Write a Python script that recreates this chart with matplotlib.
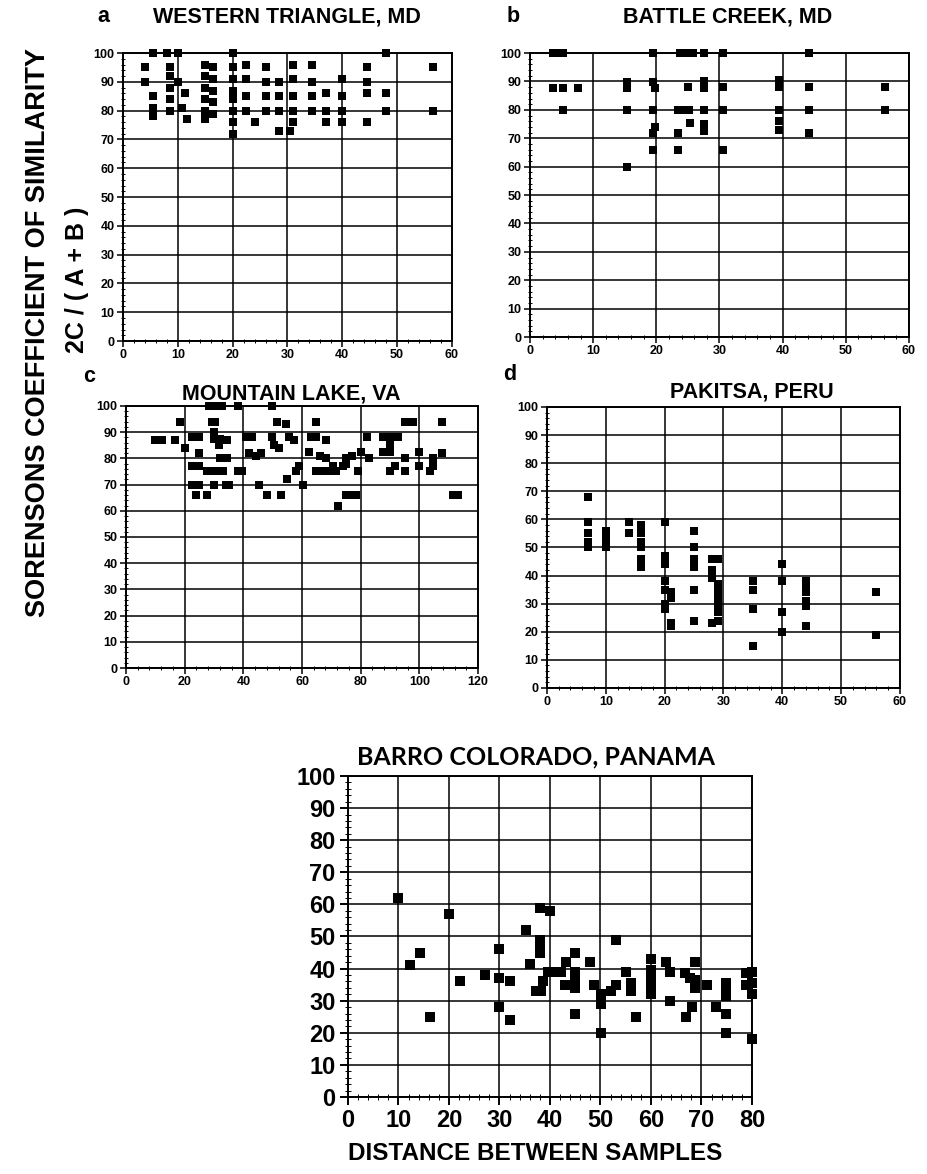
import matplotlib.pyplot as plt
import numpy as np
from matplotlib.ticker import MultipleLocator

plt.rcParams['font.family'] = ['Liberation Sans', 'DejaVu Sans']
plt.rcParams['font.weight'] = 'bold'

# a: Western Triangle, MD
a_x = [4, 4, 5.5, 5.5, 5.5, 5.5, 8, 10,
       8.6, 8.6, 8.6, 8.6, 8.6, 10, 11.3, 10.8, 11.7,
       15, 15, 15, 15, 15, 15, 16.5, 16.5, 16.5, 16.5, 16.5,
       20, 20, 20, 20, 20, 20, 20, 20,
       22.5, 22.5, 22.5, 22.5, 24,
       26, 26, 26, 26,
       28.5, 28.5, 28.5, 28.5,
       30.5, 31, 31, 31, 31, 31,
       34.5, 34.5, 34.5, 34.5,
       37, 37, 37,
       40, 40, 40, 40,
       44.5, 44.5, 44.5, 44.5,
       48, 48, 48,
       56.5, 56.5]
a_y = [95, 90, 100, 85, 81, 78, 100, 100,
       95, 92, 88, 84, 80, 90, 86, 81, 77,
       96, 92, 88, 84, 80, 77, 95, 91, 87, 83, 79,
       100, 95, 91, 87, 84, 80, 76, 72,
       96, 91, 85, 80, 76,
       95, 90, 85, 80,
       90, 85, 80, 73,
       73, 96, 91, 85, 80, 76,
       96, 90, 85, 80,
       86, 80, 76,
       91, 85, 80, 76,
       95, 90, 86, 76,
       100, 86, 80,
       95, 80]

# b: Battle Creek, MD
b_x = [3.6, 4.4, 5.2, 3.6, 5.2, 7.6, 5.2,
       15.3, 15.3, 15.3, 15.3,
       19.5, 19.5, 19.8, 19.5, 19.5, 19.8, 19.5,
       23.7, 24.8, 25.8, 25, 23.5, 24.4, 25.2, 25.3, 23.5, 23.5,
       27.6, 27.6, 27.6, 27.6, 27.6, 27.6,
       30.5, 30.5, 30.5, 30.5,
       39.5, 39.5, 39.5, 39.5, 39.5,
       44.2, 44.2, 44.2, 44.2,
       56.2, 56.2]
b_y = [100, 100, 100, 87.7, 87.7, 87.7, 80,
       89.8, 87.7, 80, 60,
       100, 89.8, 87.7, 80, 72, 74, 66,
       100, 100, 100, 88, 80, 80, 80, 75.4, 72, 66,
       100, 90, 87.7, 80, 75, 72.5,
       100, 88, 80, 66,
       90.5, 88, 80, 76, 73,
       100, 88, 80, 72,
       88, 80]

# c: Mountain Lake, VA
c_x = [10, 12.3, 16.8, 18.5, 20, 22.5, 24.8, 22.5, 24.8, 22.5, 24.8, 23.9, 24.8,
       27.7, 30.5, 27.7, 28.2, 30.5, 32.8, 29.4, 30.5, 30, 30, 32.2, 34.5, 31.7,
       32.2, 34.5, 30, 34, 35, 32, 33.2,
       38.3, 38.3, 39.7, 40.8, 43.1, 42, 44.2, 46, 45.4, 48.2, 49.9, 49.9,
       50.5, 52.2, 51.6, 54.5, 52.8, 55.6, 57.4, 55, 57.9, 59, 60.2,
       62.5, 63, 64.8, 68.2, 64.8, 66, 68.2, 64.8, 67, 69.3, 71.6, 70.5, 74, 72.2,
       75, 75, 76.9, 75.1, 77.3, 78.5, 79, 80.2, 82, 83,
       87.6, 90.5, 92.7, 87.6, 89.9, 89.9, 89.9, 91.6, 95, 95, 95, 97.9,
       100, 100, 103.6, 104.7, 104.7, 107.6, 107.6, 111.6, 113.3]
c_y = [87, 87, 87, 94, 84, 88, 88, 77, 77, 70, 70, 66, 82,
       75, 75, 66, 100, 100, 100, 94, 94, 90, 87.5, 87.5, 87, 85,
       80, 80, 70, 70, 70, 75, 75,
       100, 75, 75, 88, 88, 82, 81, 82, 70, 66, 100, 88,
       85, 84, 94, 93, 66, 88, 87, 72, 75, 77, 70,
       82.5, 88, 88, 87, 94, 81, 80, 75, 75, 75, 75, 77, 77, 62,
       80, 78, 81, 66, 66, 66, 75, 82.5, 88, 80,
       88, 88, 88, 82.5, 82.5, 85, 75, 77, 80, 75, 94, 94,
       82.5, 77, 75, 77, 80, 82, 94, 66, 66]

# d: Pakitsa, Peru
d_x = [7, 7, 7, 7, 7,
       10, 10, 10, 10,
       14, 14,
       16, 16, 16, 16, 16, 16,
       20, 20, 20, 20, 20, 20, 20, 21, 21, 21, 21,
       25, 25, 25, 25, 25, 25,
       28, 28, 28, 28,
       29, 29, 29, 29, 29, 29, 29,
       35, 35, 35, 35,
       40, 40, 40, 40,
       44, 44, 44, 44, 44, 44,
       56, 56]
d_y = [68, 59, 55, 52, 50,
       56, 54, 52, 50,
       59, 55,
       58, 55, 52, 50, 46, 43,
       59, 47, 44, 38, 35, 30, 28, 34, 32, 23, 22,
       56, 50, 46, 43, 35, 24,
       46, 42, 39, 23,
       46, 37, 35, 32, 30, 27, 24,
       38, 35, 28, 15,
       44, 38, 27, 20,
       38, 36, 34, 31, 29, 22,
       34, 19]

# e: Barro Colorado, Panama
e_x = [10, 12.2, 14.2, 16.2, 20.1, 22.1, 27.1, 30, 30, 30, 32, 32.1,
       35.2, 36, 37.2, 38.3, 38, 40, 38.1, 38.1, 38.1, 38.6, 39.6, 40.6,
       42.2, 43.1, 42.9, 45, 45, 45, 45, 45, 48, 48.8, 50.2, 50.2, 50.2,
       52, 53.1, 53.1, 55, 56, 56, 57.1, 60, 60, 60, 60, 60,
       63, 63.8, 63.8, 66.7, 67.7, 66.9, 68.2, 68.8, 68.8, 68.8, 71, 72.9,
       74.9, 74.9, 74.9, 74.9, 74.9, 78.9, 78.9, 80, 80, 80, 80]
e_y = [62, 41, 45, 25, 57, 36, 38, 46, 37, 28, 36, 24,
       52, 41.5, 33, 33, 59, 58, 49, 47, 45, 36, 39, 39,
       39, 42, 35, 45, 39, 36.5, 34, 26, 42, 35, 32, 29, 20,
       33, 35, 49, 39, 35.5, 33, 25, 43, 39.5, 37, 34.5, 32,
       42, 39, 30, 38.5, 37, 25, 28, 42, 36.5, 34, 35, 28,
       35.5, 33.5, 31.5, 26, 20, 38.5, 35, 39, 35.5, 32, 18]

fig = plt.figure(figsize=(9.28, 11.74), dpi=100)


def setup(ax, xmax, xstep, fs, msize, xs, ys):
    ax.scatter(xs, ys, marker='s', s=msize, c='black', linewidths=0, zorder=3,
               clip_on=False)
    ax.set_xlim(0, xmax)
    ax.set_ylim(0, 100)
    ax.set_xticks(np.arange(0, xmax + 1, xstep))
    ax.set_yticks(np.arange(0, 101, 10))
    ax.xaxis.set_minor_locator(MultipleLocator(xstep / 5))
    ax.yaxis.set_minor_locator(MultipleLocator(2))
    ax.grid(True, which='major', color='black', lw=1.1)
    ax.set_axisbelow(True)
    for sp in ax.spines.values():
        sp.set_linewidth(1.4)
    ax.tick_params(which='major', direction='out', length=4, width=1.1,
                   labelsize=fs, pad=2)
    ax.tick_params(which='minor', direction='inout', length=3, width=0.7)
    for lb in ax.get_xticklabels() + ax.get_yticklabels():
        lb.set_fontweight('bold')


ms = 36
ax_a = fig.add_axes([0.1325, 0.7095, 0.3545, 0.2453])
setup(ax_a, 60, 10, 9, ms, a_x, a_y)
ax_b = fig.add_axes([0.5711, 0.7129, 0.4084, 0.2419])
setup(ax_b, 60, 10, 9, ms, b_x, b_y)
ax_c = fig.add_axes([0.1358, 0.431, 0.3793, 0.2232])
setup(ax_c, 120, 20, 9, ms, c_x, c_y)
ax_d = fig.add_axes([0.5894, 0.414, 0.3804, 0.2394])
setup(ax_d, 60, 10, 9, ms, d_x, d_y)
ax_e = fig.add_axes([0.375, 0.0656, 0.4353, 0.2734])
setup(ax_e, 80, 10, 17, 60, e_x, e_y)
ax_e.tick_params(which='major', length=6, width=1.4, pad=3)
ax_e.tick_params(which='minor', length=4)

tfs = 15.5
fig.text(287 / 928, 1 - 17 / 1174, 'WESTERN TRIANGLE, MD', ha='center', va='center',
         fontsize=tfs, fontweight='bold')
fig.text(728 / 928, 1 - 17 / 1174, 'BATTLE CREEK, MD', ha='center', va='center',
         fontsize=tfs, fontweight='bold')
fig.text(291 / 928, 1 - 394 / 1174, 'MOUNTAIN LAKE, VA', ha='center', va='center',
         fontsize=tfs, fontweight='bold')
fig.text(752 / 928, 1 - 392 / 1174, 'PAKITSA, PERU', ha='center', va='center',
         fontsize=tfs, fontweight='bold')
for lab, px, py in [('a', 103, 16), ('b', 513, 17), ('c', 89, 377), ('d', 510, 374)]:
    fig.text(px / 928, 1 - py / 1174, lab, ha='center', va='center',
             fontsize=tfs, fontweight='bold')

fig.text(536 / 928, 1 - 757 / 1174, 'BARRO COLORADO, PANAMA', ha='center', va='center',
         fontsize=18, fontweight='bold', family=['Lato', 'DejaVu Sans'])
fig.text(535 / 928, 1 - 1153 / 1174, 'DISTANCE BETWEEN SAMPLES', ha='center',
         va='center', fontsize=17.5, fontweight='bold')

fig.text(38 / 928, 1 - 333 / 1174, 'SORENSONS COEFFICIENT OF SIMILARITY',
         rotation=90, ha='center', va='center', fontsize=19.5, fontweight='bold')
fig.text(77 / 928, 1 - 280 / 1174, '2C / ( A + B )',
         rotation=90, ha='center', va='center', fontsize=18, fontweight='bold')

plt.savefig('out.png', dpi=100)
